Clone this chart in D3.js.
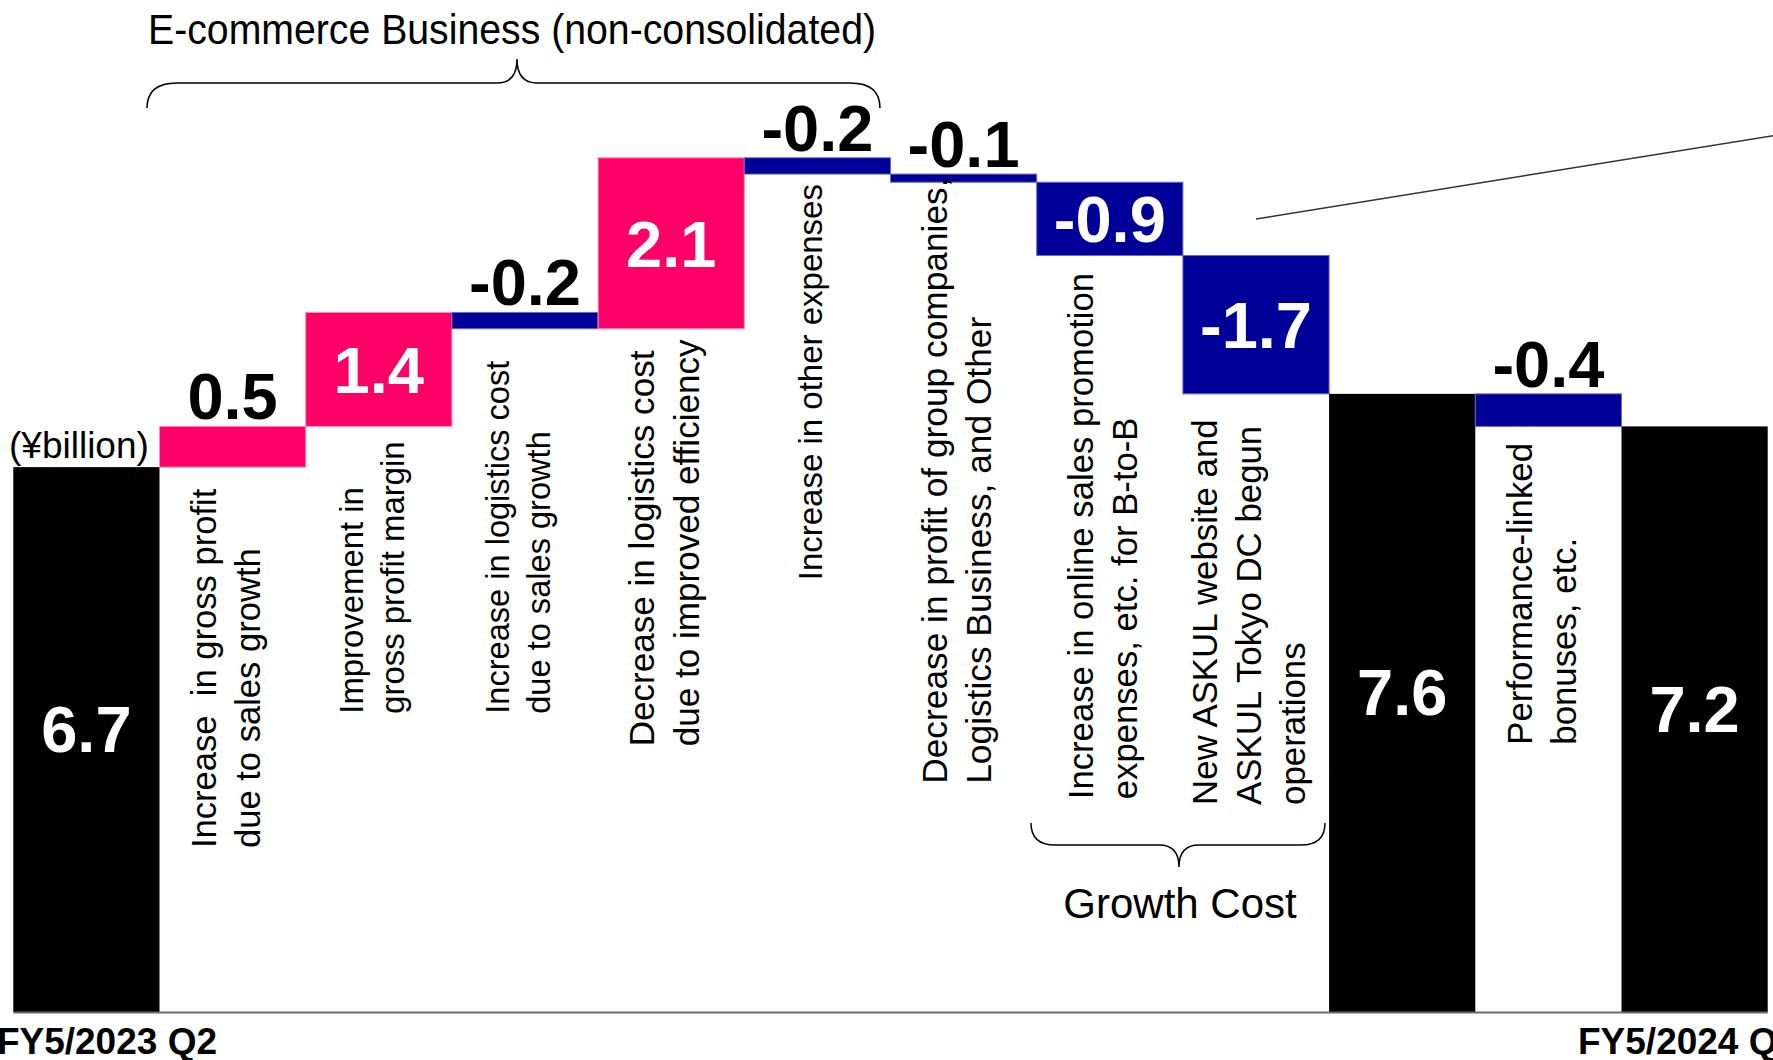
<!DOCTYPE html>
<html>
<head>
<meta charset="utf-8">
<script src="https://cdn.jsdelivr.net/npm/d3@7"></script>
<style>
  html, body { margin: 0; padding: 0; background: #fff; overflow: hidden; }
  svg { display: block; font-family: "Liberation Sans", Arial, Helvetica, sans-serif; }
</style>
</head>
<body>
<svg id="chart" width="1773" height="1060"></svg>
<script>
// ---- Operating profit bridge, ¥billion ----
const steps = [
  "FY5/2023 Q2", "gross profit growth", "gross margin", "logistics cost (growth)",
  "logistics efficiency", "other expenses", "group companies", "online promotion",
  "new website / Tokyo DC", "subtotal", "bonuses", "FY5/2024 Q2"
];
const values  = [6.7, 0.5, 1.4, -0.2, 2.1, -0.2, -0.1, -0.9, -1.7, 7.6, -0.4, 7.2];
const isTotal = [true, false, false, false, false, false, false, false, false, true, false, true];

// rotated captions under each change bar (one entry per line)
const captions = [
  [],
  ["Increase  in gross profit", "due to sales growth"],
  ["Improvement in", "gross profit margin"],
  ["Increase in logistics cost", "due to sales growth"],
  ["Decrease in logistics cost", "due to improved efficiency"],
  ["Increase in other expenses"],
  ["Decrease in profit of group companies,", "Logistics Business, and Other"],
  ["Increase in online sales promotion", "expenses, etc. for B-to-B"],
  ["New ASKUL website and", "ASKUL Tokyo DC begun", "operations"],
  [],
  ["Performance-linked", "bonuses, etc."],
  []
];
const periodLabels = ["FY5/2023 Q2", "FY5/2024 Q2"];
const unitLabel = "(¥billion)";
const groupTitle = "E-commerce Business (non-consolidated)";
const growthTitle = "Growth Cost";

// ---- layout ----
const W = 1773, H = 1060;
const baseY = 1012.5, pxPerUnit = 81.4;
const svg = d3.select("#chart");

const x = d3.scaleBand().domain(d3.range(values.length)).range([13.3, 1767.7]).padding(0);
const y = d3.scaleLinear().domain([0, 12]).range([baseY, baseY - 12 * pxPerUnit]);

const colour = { total: "#000000", up: "#FF0066", down: "#000099" };
const edge   = { total: "none",    up: "#FF8CBB", down: "#6A6AC4" };

// running totals -> floating segments
let run = 0;
const bars = values.map((v, i) => {
  let a, b;
  if (isTotal[i]) { a = 0; b = v; run = v; }
  else { a = run; b = run + v; run = b; }
  return { i, v, lo: Math.min(a, b), hi: Math.max(a, b),
           kind: isTotal[i] ? "total" : (v >= 0 ? "up" : "down") };
});

svg.append("g").selectAll("rect").data(bars).join("rect")
  .attr("x", d => x(d.i))
  .attr("y", d => y(d.hi))
  .attr("width", x.bandwidth())
  .attr("height", d => y(d.lo) - y(d.hi))
  .attr("fill", d => colour[d.kind])
  .attr("stroke", d => edge[d.kind])
  .attr("stroke-width", 1);

// axis baseline
svg.append("line")
  .attr("x1", x(0)).attr("x2", x(values.length - 1) + x.bandwidth())
  .attr("y1", baseY).attr("y2", baseY)
  .attr("stroke", "#6b6b6b").attr("stroke-width", 2);

// value labels: inside (white) on tall bars, above (black) on thin ones
const valueSize = 65, capH = 0.716 * valueSize;
svg.append("g").selectAll("text").data(bars).join("text")
  .attr("x", d => x(d.i) + x.bandwidth() / 2)
  .attr("y", d => {
    const h = y(d.lo) - y(d.hi);
    if (h > 60) {
      const mid = (y(d.lo) + y(d.hi)) / 2 + (d.kind === "total" ? -11 : 0);
      return mid + capH / 2;
    }
    return y(d.hi) - 7;
  })
  .attr("text-anchor", "middle")
  .attr("font-size", valueSize)
  .attr("font-weight", "bold")
  .attr("fill", d => (y(d.lo) - y(d.hi) > 60 ? "#fff" : "#000"))
  .text(d => d.v.toFixed(1));

// rotated captions: each block starts (bottom) at a chart level and reads upward
const captionFoot = { 1: 2.02, 2: 3.67, 3: 3.67, 4: 3.27, 5: 5.31, 6: 2.81, 7: 2.62, 8: 2.55, 10: 3.29 };
const captionSize = { 1: 34.6, 2: 32.9, 3: 32.6, 4: 35.1, 5: 33, 6: 35.3, 7: 34.7, 8: 34.8, 10: 34.8 };
captions.forEach((lines, i) => {
  if (!lines.length) return;
  const size = captionSize[i], lineGap = 1.265 * size;
  const c = x(i) + x.bandwidth() / 2 - 3.5;
  const b0 = c - (lines.length - 1) * lineGap / 2 + (0.716 - 0.21) * size / 2;
  const g = svg.append("g")
    .attr("transform", `translate(${b0},${y(captionFoot[i])}) rotate(-90)`);
  const t = g.append("text")
    .attr("font-size", size)
    .attr("fill", "#000")
    .style("white-space", "pre");
  lines.forEach((ln, k) => {
    t.append("tspan").attr("x", 0).attr("y", k * lineGap).text(ln);
  });
});

// unit label
svg.append("text")
  .attr("x", 9).attr("y", 458)
  .attr("font-size", 37)
  .text(unitLabel);

// period labels along the bottom
svg.append("text")
  .attr("x", 217).attr("y", 1054)
  .attr("text-anchor", "end")
  .attr("font-size", 37).attr("font-weight", "bold")
  .text(periodLabels[0]);
svg.append("text")
  .attr("x", 1578).attr("y", 1054)
  .attr("font-size", 37).attr("font-weight", "bold")
  .text(periodLabels[1]);

// curly brace helper (tip points away from the ends)
function brace(x0, x1, xm, yEnd, yMid, yTip, r, r2) {
  return `M${x0},${yEnd} Q${x0},${yMid} ${x0 + r},${yMid} L${xm - r2},${yMid}` +
         ` Q${xm},${yMid} ${xm},${yTip} Q${xm},${yMid} ${xm + r2},${yMid}` +
         ` L${x1 - r},${yMid} Q${x1},${yMid} ${x1},${yEnd}`;
}

// E-commerce group brace and title
svg.append("path")
  .attr("d", brace(147, 880, 517, 108, 83, 59, 30, 20))
  .attr("fill", "none").attr("stroke", "#000").attr("stroke-width", 1.5);
svg.append("text")
  .attr("x", 148).attr("y", 44)
  .attr("font-size", 43)
  .attr("textLength", 728).attr("lengthAdjust", "spacingAndGlyphs")
  .text(groupTitle);

// growth-cost brace and title
svg.append("path")
  .attr("d", brace(1031, 1325, 1179, 823, 845, 867, 24, 20))
  .attr("fill", "none").attr("stroke", "#000").attr("stroke-width", 1.5);
svg.append("text")
  .attr("x", 1180).attr("y", 918)
  .attr("text-anchor", "middle")
  .attr("font-size", 42)
  .text(growthTitle);

// leader line toward the right-hand panel
svg.append("line")
  .attr("x1", 1256).attr("y1", 219).attr("x2", 1790).attr("y2", 133)
  .attr("stroke", "#333").attr("stroke-width", 1.5);
</script>
</body>
</html>
